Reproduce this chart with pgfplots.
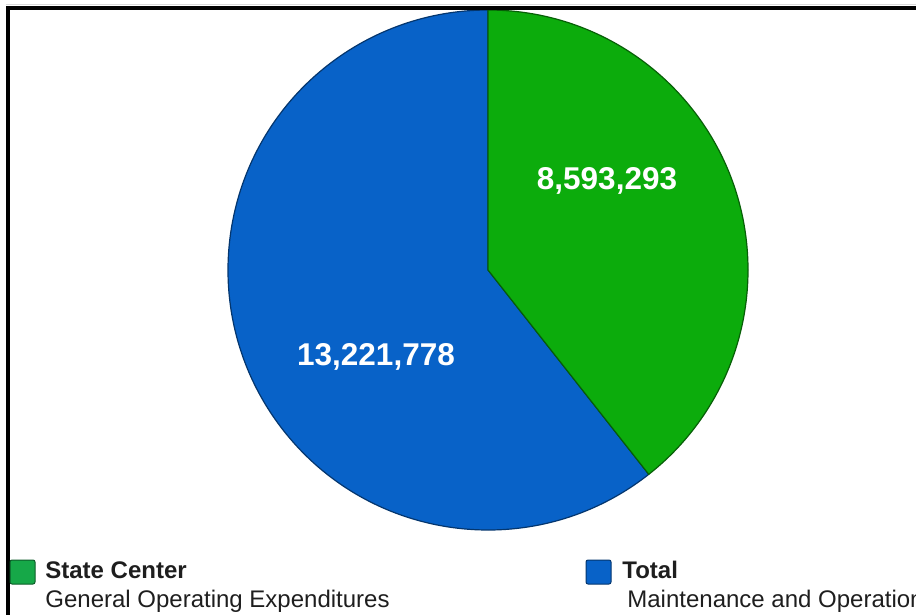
\documentclass[border=0pt]{standalone}
\usepackage{pgfplots}
\pgfplotsset{compat=1.18}
\usepackage{pgfplotstable}
\usepackage{fontspec}
\setmainfont{Liberation Sans}
\definecolor{piegreen}{RGB}{12,172,12}
\definecolor{pieblue}{RGB}{8,98,200}
\definecolor{leggreen}{RGB}{22,168,72}
\definecolor{txt}{RGB}{30,30,30}
\pgfplotstableread{
label value
StateCenter 8593293
Total 13221778
}\piedata
\begin{document}
\pgfplotstablegetelem{0}{value}\of\piedata \edef\va{\pgfplotsretval}%
\pgfplotstablegetelem{1}{value}\of\piedata \edef\vb{\pgfplotsretval}%
\edef\sweep{\fpeval{360*\va/(\va+\vb)}}%
\edef\endang{\fpeval{90-\sweep}}%
\begin{tikzpicture}
\begin{axis}[width=458pt, height=307.5pt, scale only axis,
  xmin=0, xmax=916, ymin=0, ymax=615, y dir=reverse, hide axis]
\coordinate (BBa) at (axis cs:0,615);
\coordinate (BBb) at (axis cs:916,0);
% pie
\filldraw[fill=pieblue, draw=black!45!pieblue, line width=0.6pt, line join=round]
  (axis cs:488,270) -- ++(\endang:130pt) arc[start angle=\endang, end angle=-270, radius=130pt] -- cycle;
\filldraw[fill=piegreen, draw=black!45!piegreen, line width=0.6pt, line join=round]
  (axis cs:488,270) -- ++(90:130pt) arc[start angle=90, end angle=\endang, radius=130pt] -- cycle;
% value labels
\node[text=white, font=\fontsize{15.75}{18}\selectfont\bfseries] at (axis cs:607,181) {8,593,293};
\node[text=white, font=\fontsize{15.75}{18}\selectfont\bfseries] at (axis cs:376,357) {13,221,778};
% frame
\draw[black!15, line width=0.5pt] (axis cs:6,4.5) -- (axis cs:916,4.5);
\draw[black, line width=2pt] (axis cs:8,615) -- (axis cs:8,8) -- (axis cs:916,8);
% legend
\filldraw[fill=leggreen, draw=black!45!leggreen, line width=0.5pt, rounded corners=1pt] (axis cs:10,560) rectangle (axis cs:35,584);
\filldraw[fill=pieblue, draw=black!45!pieblue, line width=0.5pt, rounded corners=1pt] (axis cs:586,560) rectangle (axis cs:611,584);
\node[anchor=base west, inner sep=0, text=txt, font=\fontsize{12}{14}\selectfont\bfseries] at (axis cs:45,578) {State Center};
\node[anchor=base west, inner sep=0, text=txt, font=\fontsize{12}{14}\selectfont] at (axis cs:45,607) {General Operating Expenditures};
\node[anchor=base west, inner sep=0, text=txt, font=\fontsize{12}{14}\selectfont\bfseries] at (axis cs:622,578) {Total};
\node[anchor=base west, inner sep=0, text=txt, font=\fontsize{12}{14}\selectfont] at (axis cs:627,607) {Maintenance and Operations};
\end{axis}
\pgfresetboundingbox
\path[use as bounding box] (BBa) rectangle (BBb);
\end{tikzpicture}
\end{document}
